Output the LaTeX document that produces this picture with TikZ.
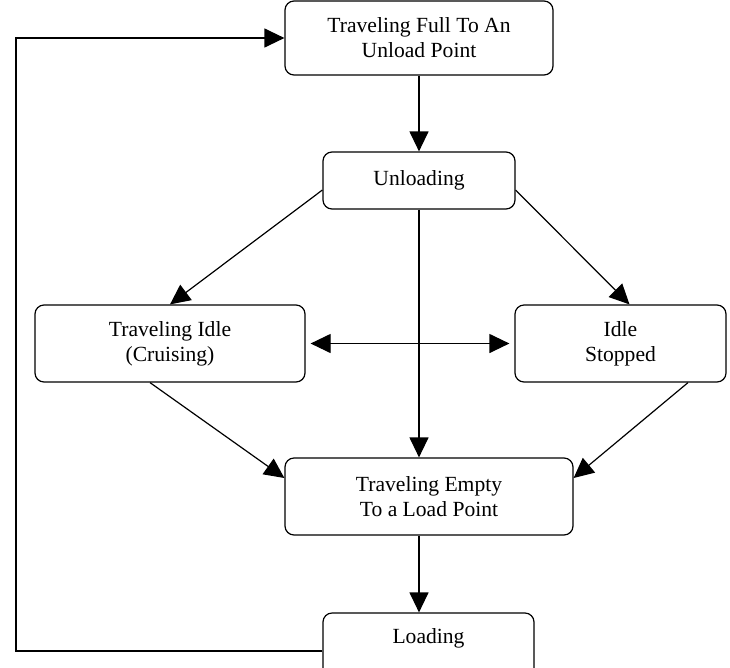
\documentclass[tikz,border=0pt]{standalone}
\usepackage{fontspec}
\setmainfont{Liberation Serif}
\usetikzlibrary{arrows.meta,calc}
\begin{document}
\begin{tikzpicture}[x=1pt,y=1pt,
  box/.style={draw=black,line width=1.2pt,rounded corners=9pt,align=center,
    inner sep=0pt,font=\fontsize{21.6}{25}\selectfont},
  conn/.style={draw=black,line width=1.2pt,-{Triangle[length=20pt,width=19pt]}},
  biconn/.style={draw=black,line width=1.2pt,{Triangle[length=20pt,width=19pt]}-{Triangle[length=20pt,width=19pt]}}
]
\useasboundingbox (0,0) rectangle (730,-667);
\node[box,minimum width=268pt,minimum height=74pt] (top) at (419,-38) {Traveling Full To An\\Unload Point};
\node[box,minimum width=192pt,minimum height=57pt] (unload) at (419,-180.5) {Unloading};
\node[box,minimum width=270pt,minimum height=77pt] (tidle) at (170,-343.5) {Traveling Idle\\(Cruising)};
\node[box,minimum width=211pt,minimum height=77pt] (istop) at (620.5,-343.5) {Idle\\Stopped};
\node[box,minimum width=288pt,minimum height=77pt] (tempty) at (429,-496.5) {Traveling Empty\\To a Load Point};
\node[box,minimum width=211pt,minimum height=67pt,label={[font=\fontsize{21.6}{25}\selectfont,yshift=8.5pt]center:Loading}] (loading) at (428.5,-646.5) {};
\coordinate (corner) at (16,-651);

\draw[conn] (top.south) -- (unload.north);
\draw[conn] ([yshift=-9.5pt]unload.west) -- (tidle.north);
\draw[conn] ([yshift=-9.5pt]unload.east) -- ([xshift=9pt]istop.north);
\draw[conn] (unload.south) -- (unload.south |- tempty.north);
\draw[biconn,shorten <=5pt,shorten >=5pt] (tidle.east) -- (istop.west);
\draw[conn] ([xshift=-20pt]tidle.south) -- ([yshift=18.5pt]tempty.west);
\draw[conn] ([xshift=67.5pt]istop.south) -- ([yshift=18.5pt]tempty.east);
\draw[conn] (unload.south |- tempty.south) -- (unload.south |- loading.north);
\draw[conn] ([yshift=-4.5pt]loading.west) -- (corner) |- (top.west);
\end{tikzpicture}
\end{document}
